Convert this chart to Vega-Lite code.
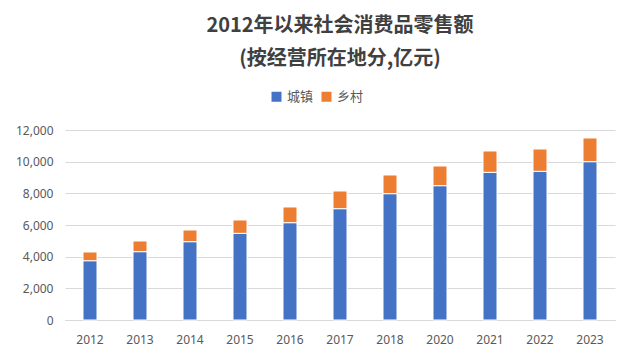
{
  "$schema": "https://vega.github.io/schema/vega-lite/v6.json",
  "width": 550,
  "height": 190,
  "autosize": {"type": "none"},
  "padding": {"left": 65, "top": 130, "right": 20, "bottom": 42},
  "background": "white",
  "title": {
    "text": ["2012年以来社会消费品零售额", "(按经营所在地分,亿元)"],
    "font": "Noto Sans CJK SC",
    "fontSize": 20,
    "fontWeight": "bold",
    "color": "#404040",
    "lineHeight": 33,
    "anchor": "middle",
    "offset": 21
  },
  "data": {
    "values": [
      {"year": "2012", "type": "城镇", "value": 3745},
      {"year": "2012", "type": "乡村", "value": 550},
      {"year": "2013", "type": "城镇", "value": 4316},
      {"year": "2013", "type": "乡村", "value": 674},
      {"year": "2014", "type": "城镇", "value": 4947},
      {"year": "2014", "type": "乡村", "value": 737},
      {"year": "2015", "type": "城镇", "value": 5474},
      {"year": "2015", "type": "乡村", "value": 842},
      {"year": "2016", "type": "城镇", "value": 6147},
      {"year": "2016", "type": "乡村", "value": 990},
      {"year": "2017", "type": "城镇", "value": 7032},
      {"year": "2017", "type": "乡村", "value": 1115},
      {"year": "2018", "type": "城镇", "value": 7979},
      {"year": "2018", "type": "乡村", "value": 1179},
      {"year": "2020", "type": "城镇", "value": 8484},
      {"year": "2020", "type": "乡村", "value": 1242},
      {"year": "2021", "type": "城镇", "value": 9326},
      {"year": "2021", "type": "乡村", "value": 1348},
      {"year": "2022", "type": "城镇", "value": 9389},
      {"year": "2022", "type": "乡村", "value": 1411},
      {"year": "2023", "type": "城镇", "value": 10000},
      {"year": "2023", "type": "乡村", "value": 1495}
    ]
  },
  "mark": {"type": "bar", "stroke": "white", "strokeWidth": 1},
  "encoding": {
    "x": {
      "field": "year",
      "type": "ordinal",
      "title": null,
      "scale": {"paddingInner": 0.72, "paddingOuter": 0.36},
      "axis": {
        "labelAngle": 0,
        "ticks": false,
        "domainColor": "#D9D9D9",
        "labelColor": "#595959",
        "labelFont": "Noto Sans",
        "labelFontSize": 12,
        "labelPadding": 14
      }
    },
    "y": {
      "field": "value",
      "type": "quantitative",
      "aggregate": "sum",
      "title": null,
      "scale": {"domain": [0, 12000]},
      "axis": {
        "values": [0, 2000, 4000, 6000, 8000, 10000, 12000],
        "format": ",.0f",
        "domain": false,
        "ticks": false,
        "gridColor": "#D9D9D9",
        "labelColor": "#595959",
        "labelFont": "Noto Sans",
        "labelFontSize": 12,
        "labelPadding": 12
      }
    },
    "color": {
      "field": "type",
      "type": "nominal",
      "scale": {"domain": ["城镇", "乡村"], "range": ["#4472C4", "#ED7D31"]},
      "legend": {
        "title": null,
        "orient": "none",
        "direction": "horizontal",
        "legendX": 205,
        "legendY": -40,
        "symbolType": "square",
        "symbolSize": 100,
        "symbolStrokeWidth": 0,
        "labelFont": "Noto Sans CJK SC",
        "labelFontSize": 13,
        "labelColor": "#595959",
        "columnPadding": 6,
        "symbolOffset": 0
      }
    },
    "order": {"field": "type", "sort": "descending"}
  },
  "config": {"view": {"stroke": null}}
}
